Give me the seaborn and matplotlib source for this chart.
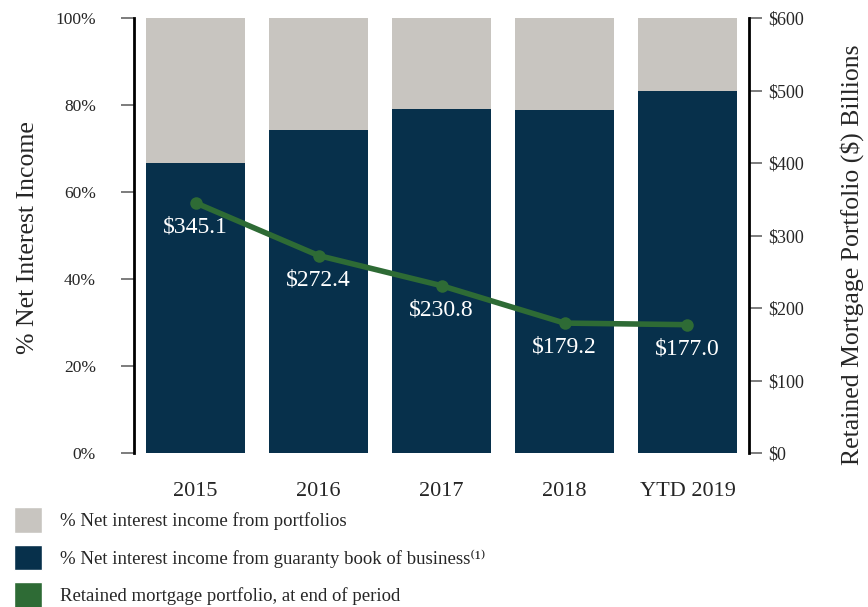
import numpy as np
import pandas as pd
import seaborn as sns
import matplotlib.pyplot as plt
from matplotlib.patches import Patch

# data
years = ['2015', '2016', '2017', '2018', 'YTD 2019']
pct_guaranty = [66.7, 74.3, 79.1, 78.9, 83.2]
pct_total = [100, 100, 100, 100, 100]
retained = [345.1, 272.4, 230.8, 179.2, 177.0]

grey = '#C8C5C0'
navy = '#07304B'
green = '#2E6B35'

sns.set_style('white')
plt.rcParams['font.family'] = ['Liberation Serif', 'DejaVu Serif']

df = pd.DataFrame({'year': years, 'guaranty': pct_guaranty, 'total': pct_total, 'retained': retained})

fig = plt.figure(figsize=(8.68, 6.07), dpi=100)
ax = fig.add_axes([0.1544, 0.2537, 0.7085, 0.7166])

sns.barplot(data=df, x='year', y='total', color=grey, width=0.8, saturation=1, linewidth=0, ax=ax)
sns.barplot(data=df, x='year', y='guaranty', color=navy, width=0.8, saturation=1, linewidth=0, ax=ax)
ax.set_ylim(0, 100)
ax.set_xlim(-0.5, 4.5)
ax.set_yticks(range(0, 101, 20))
ax.set_yticklabels([f'{v}%' for v in range(0, 101, 20)], fontsize=12.5)
ax.set_xlabel('')
ax.set_ylabel('% Net Interest Income', fontsize=18.5)
ax.yaxis.set_label_coords(-0.154, 0.495)
ax.tick_params(axis='x', length=0, labelsize=16, pad=21)
ax.tick_params(axis='y', length=9.5, width=1.2, color='#666666', pad=18, left=True)

ax2 = ax.twinx()
sns.lineplot(x=np.arange(len(years)), y=df['retained'], color=green, linewidth=4,
             marker='o', markersize=9, markeredgewidth=0, ax=ax2)
ax2.set_ylim(0, 600)
ax2.set_yticks(range(0, 601, 100))
ax2.set_yticklabels([f'${v}' for v in range(0, 601, 100)], fontsize=13)
ax2.set_ylabel('Retained Mortgage Portfolio ($) Billions', fontsize=18.5)
ax2.yaxis.set_label_coords(1.148, 0.455)
ax2.tick_params(axis='y', length=9.5, width=1.2, color='#666666', pad=4, right=True)

for i, v in enumerate(retained):
    ax2.annotate(f'${v:.1f}', (i, v), xytext=(0, -10), textcoords='offset points',
                 ha='center', va='top', color='white', fontsize=17)

for a in (ax, ax2):
    for s in ['top', 'bottom']:
        a.spines[s].set_visible(False)
ax.spines['right'].set_visible(False)
ax.spines['left'].set_linewidth(2)
ax.spines['left'].set_color('black')
ax2.spines['left'].set_visible(False)
ax2.spines['right'].set_linewidth(2)
ax2.spines['right'].set_color('black')

handles = [Patch(facecolor=grey), Patch(facecolor=navy), Patch(facecolor=green)]
labels = ['% Net interest income from portfolios',
          '% Net interest income from guaranty book of business\u207d\u00b9\u207e',
          'Retained mortgage portfolio, at end of period']
fig.legend(handles, labels, loc='upper left', bbox_to_anchor=(0.016, 0.1647), frameon=False,
           fontsize=13.5, handlelength=1.5, handleheight=1.73, labelspacing=0.64,
           handletextpad=0.95, borderaxespad=0, borderpad=0)

fig.savefig('out.png', dpi=100)
